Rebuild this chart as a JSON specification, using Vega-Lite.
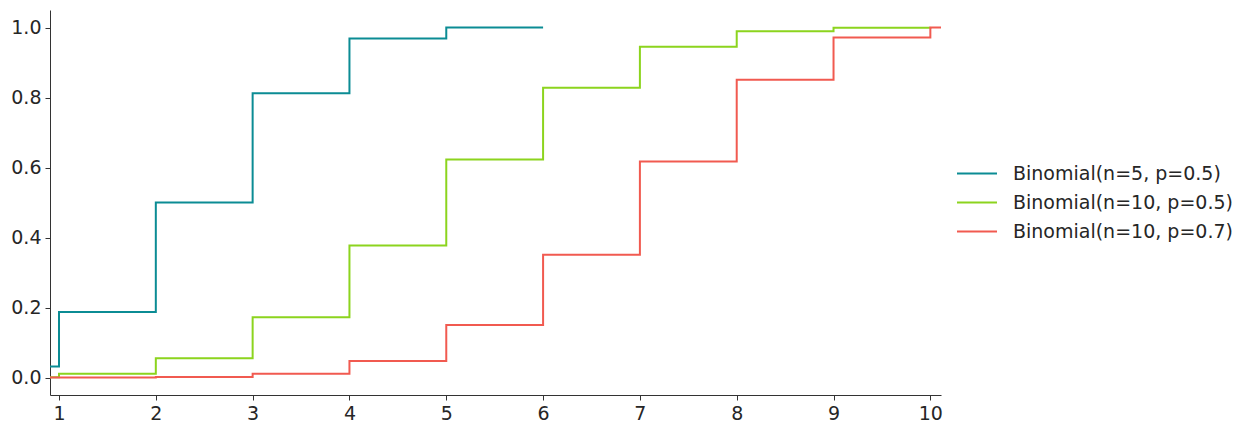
{
  "$schema": "https://vega.github.io/schema/vega-lite/v6.json",
  "width": 891,
  "height": 385,
  "autosize": {"type": "none"},
  "padding": {"left": 50, "top": 10, "right": 308, "bottom": 39},
  "background": "white",
  "config": {
    "font": "DejaVu Sans",
    "view": {"stroke": null},
    "axis": {
      "grid": false,
      "domainColor": "#333333",
      "tickColor": "#333333",
      "tickSize": 5,
      "labelColor": "#262626",
      "labelFontSize": 19,
      "labelPadding": 4,
      "title": null
    }
  },
  "data": {
    "values": [
      {"k": 0, "cdf": 0.03125, "dist": "Binomial(n=5, p=0.5)"},
      {"k": 1, "cdf": 0.1875, "dist": "Binomial(n=5, p=0.5)"},
      {"k": 2, "cdf": 0.5, "dist": "Binomial(n=5, p=0.5)"},
      {"k": 3, "cdf": 0.8125, "dist": "Binomial(n=5, p=0.5)"},
      {"k": 4, "cdf": 0.96875, "dist": "Binomial(n=5, p=0.5)"},
      {"k": 5, "cdf": 1.0, "dist": "Binomial(n=5, p=0.5)"},
      {"k": 6, "cdf": 1.0, "dist": "Binomial(n=5, p=0.5)"},
      {"k": 0, "cdf": 0.000977, "dist": "Binomial(n=10, p=0.5)"},
      {"k": 1, "cdf": 0.010742, "dist": "Binomial(n=10, p=0.5)"},
      {"k": 2, "cdf": 0.054688, "dist": "Binomial(n=10, p=0.5)"},
      {"k": 3, "cdf": 0.171875, "dist": "Binomial(n=10, p=0.5)"},
      {"k": 4, "cdf": 0.376953, "dist": "Binomial(n=10, p=0.5)"},
      {"k": 5, "cdf": 0.623047, "dist": "Binomial(n=10, p=0.5)"},
      {"k": 6, "cdf": 0.828125, "dist": "Binomial(n=10, p=0.5)"},
      {"k": 7, "cdf": 0.945313, "dist": "Binomial(n=10, p=0.5)"},
      {"k": 8, "cdf": 0.989258, "dist": "Binomial(n=10, p=0.5)"},
      {"k": 9, "cdf": 0.999023, "dist": "Binomial(n=10, p=0.5)"},
      {"k": 10, "cdf": 1.0, "dist": "Binomial(n=10, p=0.5)"},
      {"k": 0, "cdf": 0.000006, "dist": "Binomial(n=10, p=0.7)"},
      {"k": 1, "cdf": 0.000144, "dist": "Binomial(n=10, p=0.7)"},
      {"k": 2, "cdf": 0.00159, "dist": "Binomial(n=10, p=0.7)"},
      {"k": 3, "cdf": 0.010592, "dist": "Binomial(n=10, p=0.7)"},
      {"k": 4, "cdf": 0.047349, "dist": "Binomial(n=10, p=0.7)"},
      {"k": 5, "cdf": 0.150268, "dist": "Binomial(n=10, p=0.7)"},
      {"k": 6, "cdf": 0.350389, "dist": "Binomial(n=10, p=0.7)"},
      {"k": 7, "cdf": 0.617172, "dist": "Binomial(n=10, p=0.7)"},
      {"k": 8, "cdf": 0.850717, "dist": "Binomial(n=10, p=0.7)"},
      {"k": 9, "cdf": 0.971752, "dist": "Binomial(n=10, p=0.7)"},
      {"k": 10, "cdf": 1.0, "dist": "Binomial(n=10, p=0.7)"},
      {"k": 11, "cdf": 1.0, "dist": "Binomial(n=10, p=0.7)"}
    ]
  },
  "mark": {"type": "line", "interpolate": "step-after", "strokeWidth": 2, "clip": true},
  "encoding": {
    "x": {
      "field": "k",
      "type": "quantitative",
      "scale": {"domain": [0.907, 10.11], "nice": false, "zero": false},
      "axis": {"values": [1, 2, 3, 4, 5, 6, 7, 8, 9, 10], "format": "d"}
    },
    "y": {
      "field": "cdf",
      "type": "quantitative",
      "scale": {"domain": [-0.05, 1.05], "nice": false, "zero": false},
      "axis": {"values": [0, 0.2, 0.4, 0.6, 0.8, 1.0], "format": ".1f"}
    },
    "color": {
      "field": "dist",
      "type": "nominal",
      "sort": ["Binomial(n=5, p=0.5)", "Binomial(n=10, p=0.5)", "Binomial(n=10, p=0.7)"],
      "scale": {"range": ["#0b8c94", "#8cd41e", "#f15a50"]},
      "legend": {
        "title": null,
        "orient": "none",
        "legendX": 906,
        "legendY": 149,
        "symbolType": "stroke",
        "symbolSize": 1600,
        "symbolStrokeWidth": 2,
        "labelFontSize": 19,
        "labelLimit": 0,
        "labelColor": "#262626",
        "labelOffset": 15,
        "clipHeight": 29,
        "rowPadding": 0
      }
    }
  }
}
